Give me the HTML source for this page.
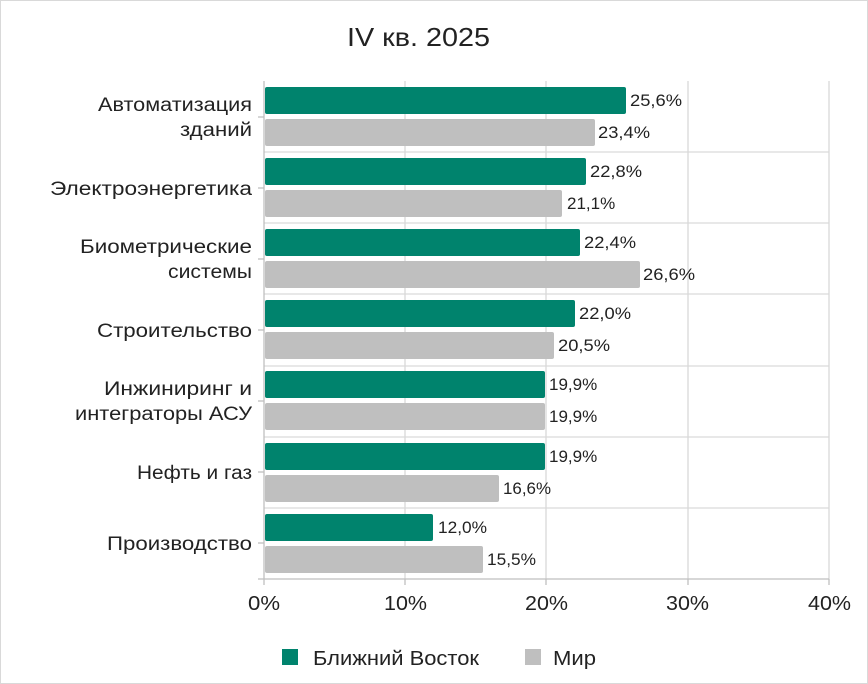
<!DOCTYPE html>
<html><head><meta charset="utf-8"><style>
html,body{margin:0;padding:0;background:#fff}
svg{display:block;font-family:"Liberation Sans","DejaVu Sans",sans-serif}
</style></head><body>
<svg width="868" height="684" viewBox="0 0 868 684" xmlns="http://www.w3.org/2000/svg">
<rect x="0.5" y="0.5" width="867" height="683" fill="#fff" stroke="#d9d9d9"/>
<text x="347" y="46" font-size="26" fill="#222" textLength="143" lengthAdjust="spacingAndGlyphs">IV кв. 2025</text>
<g stroke="#d9d9d9" stroke-width="1.3">
<line x1="405" y1="81" x2="405" y2="579"/><line x1="546" y1="81" x2="546" y2="579"/>
<line x1="688" y1="81" x2="688" y2="579"/><line x1="829" y1="81" x2="829" y2="579"/>
<line x1="264" y1="152" x2="829" y2="152"/><line x1="264" y1="223" x2="829" y2="223"/>
<line x1="264" y1="294" x2="829" y2="294"/><line x1="264" y1="366" x2="829" y2="366"/>
<line x1="264" y1="437" x2="829" y2="437"/><line x1="264" y1="508" x2="829" y2="508"/>
</g>
<g stroke="#bfbfbf" stroke-width="1.3">
<line x1="264" y1="81" x2="264" y2="585"/><line x1="258" y1="579" x2="829" y2="579"/>
<line x1="405" y1="579" x2="405" y2="585"/><line x1="546" y1="579" x2="546" y2="585"/>
<line x1="688" y1="579" x2="688" y2="585"/><line x1="829" y1="579" x2="829" y2="585"/>
<line x1="258" y1="117" x2="264" y2="117"/><line x1="258" y1="188" x2="264" y2="188"/>
<line x1="258" y1="259" x2="264" y2="259"/><line x1="258" y1="330" x2="264" y2="330"/>
<line x1="258" y1="401" x2="264" y2="401"/><line x1="258" y1="472" x2="264" y2="472"/>
<line x1="258" y1="543" x2="264" y2="543"/>
</g>
<g fill="#00836d">
<rect x="265" y="87" width="361" height="27" rx="2"/>
<rect x="265" y="158" width="321" height="27" rx="2"/>
<rect x="265" y="229" width="315" height="27" rx="2"/>
<rect x="265" y="300" width="310" height="27" rx="2"/>
<rect x="265" y="371" width="280" height="27" rx="2"/>
<rect x="265" y="443" width="280" height="27" rx="2"/>
<rect x="265" y="514" width="168" height="27" rx="2"/>
</g>
<g fill="#bfbfbf">
<rect x="265" y="119" width="330" height="27" rx="2"/>
<rect x="265" y="190" width="297" height="27" rx="2"/>
<rect x="265" y="261" width="375" height="27" rx="2"/>
<rect x="265" y="332" width="289" height="27" rx="2"/>
<rect x="265" y="403" width="280" height="27" rx="2"/>
<rect x="265" y="475" width="234" height="27" rx="2"/>
<rect x="265" y="546" width="218" height="27" rx="2"/>
</g>
<g font-size="17" fill="#222">
<text x="630" y="106" textLength="52" lengthAdjust="spacingAndGlyphs">25,6%</text><text x="598" y="138" textLength="52" lengthAdjust="spacingAndGlyphs">23,4%</text>
<text x="590" y="177" textLength="52" lengthAdjust="spacingAndGlyphs">22,8%</text><text x="567" y="209">21,1%</text>
<text x="584" y="248" textLength="52" lengthAdjust="spacingAndGlyphs">22,4%</text><text x="643" y="280" textLength="52" lengthAdjust="spacingAndGlyphs">26,6%</text>
<text x="579" y="319" textLength="52" lengthAdjust="spacingAndGlyphs">22,0%</text><text x="558" y="351" textLength="52" lengthAdjust="spacingAndGlyphs">20,5%</text>
<text x="549" y="390">19,9%</text><text x="549" y="422">19,9%</text>
<text x="549" y="462">19,9%</text><text x="503" y="494" textLength="48" lengthAdjust="spacingAndGlyphs">16,6%</text>
<text x="438" y="533" textLength="49" lengthAdjust="spacingAndGlyphs">12,0%</text><text x="487" y="565" textLength="49" lengthAdjust="spacingAndGlyphs">15,5%</text>
</g>
<g font-size="19" fill="#222">
<text x="98" y="111" textLength="154" lengthAdjust="spacingAndGlyphs">Автоматизация</text><text x="180" y="136" textLength="72" lengthAdjust="spacingAndGlyphs">зданий</text>
<text x="50" y="195" textLength="202" lengthAdjust="spacingAndGlyphs">Электроэнергетика</text>
<text x="80" y="253" textLength="172" lengthAdjust="spacingAndGlyphs">Биометрические</text><text x="168" y="278" font-size="19" textLength="84" lengthAdjust="spacingAndGlyphs">системы</text>
<text x="97" y="337" textLength="155" lengthAdjust="spacingAndGlyphs">Строительство</text>
<text x="104" y="395" textLength="148" lengthAdjust="spacingAndGlyphs">Инжиниринг и</text><text x="75" y="420" textLength="177" lengthAdjust="spacingAndGlyphs">интеграторы АСУ</text>
<text x="137" y="479" textLength="115" lengthAdjust="spacingAndGlyphs">Нефть и газ</text>
<text x="107" y="550" textLength="145" lengthAdjust="spacingAndGlyphs">Производство</text>
</g>
<g font-size="20" fill="#222">
<text x="248" y="610" textLength="32" lengthAdjust="spacingAndGlyphs">0%</text>
<text x="384" y="610" textLength="43" lengthAdjust="spacingAndGlyphs">10%</text>
<text x="525" y="610" textLength="43" lengthAdjust="spacingAndGlyphs">20%</text>
<text x="666" y="610" textLength="43" lengthAdjust="spacingAndGlyphs">30%</text>
<text x="808" y="610" textLength="43" lengthAdjust="spacingAndGlyphs">40%</text>
</g>
<rect x="282" y="649" width="16" height="16" fill="#00836d"/>
<text x="313" y="665" font-size="20" fill="#222" textLength="166" lengthAdjust="spacingAndGlyphs">Ближний Восток</text>
<rect x="525" y="649" width="16" height="16" fill="#bfbfbf"/>
<text x="553" y="665" font-size="20" fill="#222" textLength="43" lengthAdjust="spacingAndGlyphs">Мир</text>
</svg>
</body></html>
